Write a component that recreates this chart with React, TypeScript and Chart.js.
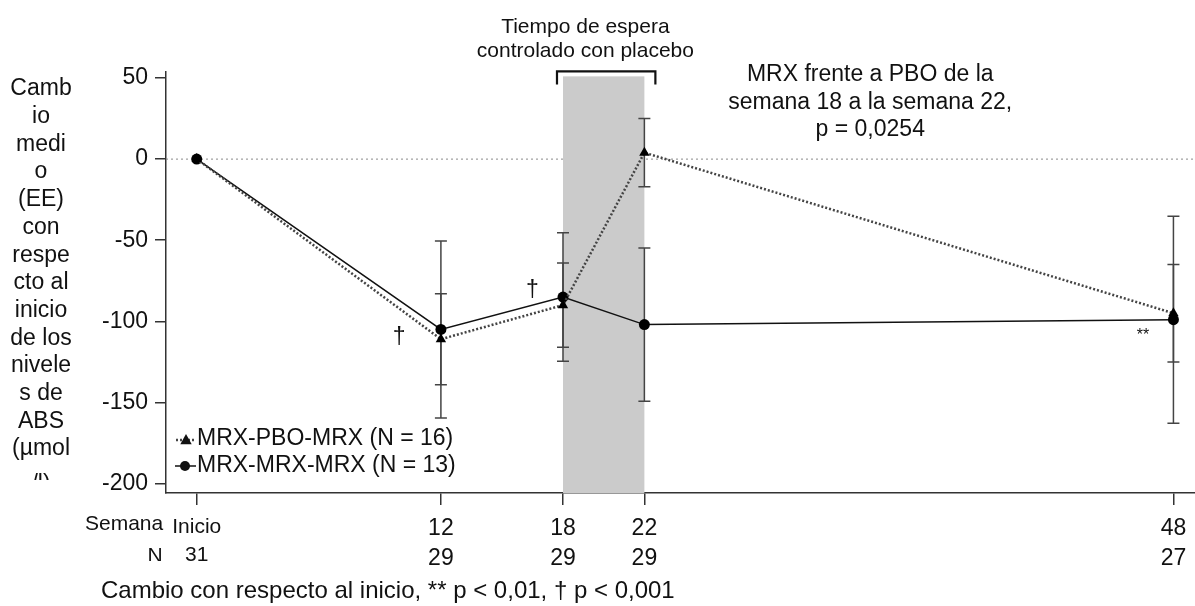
import { useEffect, useRef } from "react";
import { Chart, registerables } from "chart.js";

Chart.register(...registerables);

// ---- data ----
const weeks = [0, 12, 18, 22, 48];
const weekLabels = ["Inicio", "12", "18", "22", "48"];
const nCounts = ["31", "29", "29", "29", "27"];
const yTicks = [50, 0, -50, -100, -150, -200];
const seriesLabels = ["MRX-PBO-MRX (N = 16)", "MRX-MRX-MRX (N = 13)"];
const mrxPboMean = [0, -111, -90, 4, -95];
const mrxPboSE = [0, 28, 26, 21, 30];
const mrxMrxMean = [0, -105, -85, -102, -99];
const mrxMrxSE = [0, 54.5, 39.6, 47.2, 63.8];
const placeboWindow = [18, 22];
const yTitleLines = ["Camb", "io", "medi", "o", "(EE)", "con", "respe", "cto al", "inicio", "de los", "nivele", "s de", "ABS", "(µmol", "/l)"];
const placeboTitle = ["Tiempo de espera", "controlado con placebo"];
const compareText = ["MRX frente a PBO de la", "semana 18 a la semana 22,", "p = 0,0254"];
const footerText = "Cambio con respecto al inicio, ** p < 0,01, † p < 0,001";

const FONT = "'Liberation Sans', Arial, Helvetica, sans-serif";

export default function App() {
  const ref = useRef<HTMLCanvasElement>(null);

  useEffect(() => {
    const canvas = ref.current!;

    const drawTri = (ctx: CanvasRenderingContext2D, x: number, y: number, r: number) => {
      ctx.beginPath();
      ctx.moveTo(x, y - r);
      ctx.lineTo(x + r * 0.95, y + r * 0.7);
      ctx.lineTo(x - r * 0.95, y + r * 0.7);
      ctx.closePath();
      ctx.fill();
    };

    const overlay = {
      id: "overlay",
      beforeDatasetsDraw(chart: any) {
        const { ctx, chartArea } = chart;
        const xs = chart.scales.x;
        const ys = chart.scales.y;
        ctx.save();
        // zero reference line
        ctx.strokeStyle = "#8a8a8a";
        ctx.lineWidth = 1;
        ctx.setLineDash([2, 3]);
        ctx.beginPath();
        ctx.moveTo(chartArea.left, ys.getPixelForValue(0));
        ctx.lineTo(chartArea.right, ys.getPixelForValue(0));
        ctx.stroke();
        ctx.setLineDash([]);
        // placebo band
        const bx0 = xs.getPixelForValue(placeboWindow[0]);
        const bx1 = xs.getPixelForValue(placeboWindow[1]);
        const btop = ys.getPixelForValue(51);
        ctx.fillStyle = "#cbcbcb";
        ctx.fillRect(bx0, btop, bx1 - bx0, chartArea.bottom - btop);
        // bracket
        ctx.strokeStyle = "#111";
        ctx.lineWidth = 2.2;
        const bky = btop - 5;
        ctx.beginPath();
        ctx.moveTo(bx0 - 6, bky + 13);
        ctx.lineTo(bx0 - 6, bky);
        ctx.lineTo(bx1 + 11, bky);
        ctx.lineTo(bx1 + 11, bky + 13);
        ctx.stroke();
        // error bars
        const series = [
          { mean: mrxPboMean, se: mrxPboSE },
          { mean: mrxMrxMean, se: mrxMrxSE },
        ];
        ctx.strokeStyle = "#444";
        ctx.lineWidth = 1.5;
        series.forEach((s) => {
          weeks.forEach((w, i) => {
            if (!s.se[i]) return;
            const px = xs.getPixelForValue(w);
            const y1 = ys.getPixelForValue(s.mean[i] + s.se[i]);
            const y2 = ys.getPixelForValue(s.mean[i] - s.se[i]);
            ctx.beginPath();
            ctx.moveTo(px, y1);
            ctx.lineTo(px, y2);
            ctx.moveTo(px - 6, y1);
            ctx.lineTo(px + 6, y1);
            ctx.moveTo(px - 6, y2);
            ctx.lineTo(px + 6, y2);
            ctx.stroke();
          });
        });
        ctx.restore();
      },
      afterDraw(chart: any) {
        const { ctx } = chart;
        const xs = chart.scales.x;
        const ys = chart.scales.y;
        ctx.save();
        ctx.fillStyle = "#111";
        ctx.textBaseline = "middle";
        // y-axis title (stacked, clipped at the bottom like the original text box)
        ctx.save();
        ctx.beginPath();
        ctx.rect(0, 0, 100, 480);
        ctx.clip();
        ctx.font = `23px ${FONT}`;
        ctx.textAlign = "center";
        yTitleLines.forEach((t, i) => {
          const y = i === yTitleLines.length - 1 ? 485 : 89 + i * 27.7;
          ctx.fillText(t, 41, y);
        });
        ctx.restore();
        // placebo title
        ctx.font = `21px ${FONT}`;
        ctx.textAlign = "center";
        const pcx = xs.getPixelForValue(19.1);
        ctx.fillText(placeboTitle[0], pcx, 27);
        ctx.fillText(placeboTitle[1], pcx, 51);
        // comparison text
        ctx.font = `23px ${FONT}`;
        const ccx = xs.getPixelForValue(33.1);
        compareText.forEach((t, i) => ctx.fillText(t, ccx, 75 + i * 27.5));
        // significance marks
        ctx.font = `23px ${FONT}`;
        ctx.fillText("†", xs.getPixelForValue(9.95), ys.getPixelForValue(-110));
        ctx.fillText("†", xs.getPixelForValue(16.5), ys.getPixelForValue(-81));
        ctx.font = `16px ${FONT}`;
        ctx.fillText("**", xs.getPixelForValue(46.5), ys.getPixelForValue(-109));
        // legend
        ctx.textAlign = "left";
        ctx.font = `23px ${FONT}`;
        ctx.strokeStyle = "#444";
        ctx.lineWidth = 2.5;
        ctx.setLineDash([2, 2]);
        ctx.beginPath();
        ctx.moveTo(176, 440);
        ctx.lineTo(195, 440);
        ctx.stroke();
        ctx.setLineDash([]);
        drawTri(ctx, 186, 440, 6);
        ctx.strokeStyle = "#111";
        ctx.lineWidth = 1.5;
        ctx.beginPath();
        ctx.moveTo(175, 466);
        ctx.lineTo(196, 466);
        ctx.stroke();
        ctx.beginPath();
        ctx.arc(185, 466, 5, 0, Math.PI * 2);
        ctx.fill();
        ctx.fillText(seriesLabels[0], 197, 439);
        ctx.fillText(seriesLabels[1], 197, 466);
        // row labels for x axis
        ctx.font = `21px ${FONT}`;
        ctx.fillText("Semana", 85, 524);
        ctx.save();
        ctx.beginPath();
        ctx.rect(100, 540, 80, 21);
        ctx.clip();
        ctx.textAlign = "center";
        ctx.fillText("N", 155, 556);
        ctx.restore();
        // footer
        ctx.textAlign = "left";
        ctx.font = `24px ${FONT}`;
        ctx.fillText(footerText, 101, 591);
        ctx.restore();
      },
    };

    const chart = new Chart(canvas, {
      type: "line",
      data: {
        datasets: [
          {
            label: seriesLabels[0],
            data: weeks.map((w, i) => ({ x: w, y: mrxPboMean[i] })),
            borderColor: "#444",
            borderWidth: 2.5,
            borderDash: [2, 2],
            pointStyle: "triangle",
            pointRadius: 6,
            pointBackgroundColor: "#000",
            pointBorderColor: "#000",
            pointBorderWidth: 0,
            tension: 0,
            clip: false,
          },
          {
            label: seriesLabels[1],
            data: weeks.map((w, i) => ({ x: w, y: mrxMrxMean[i] })),
            borderColor: "#111",
            borderWidth: 1.5,
            pointStyle: "circle",
            pointRadius: 5.5,
            pointBackgroundColor: "#000",
            pointBorderColor: "#000",
            pointBorderWidth: 0,
            tension: 0,
            clip: false,
          },
        ],
      },
      options: {
        responsive: false,
        animation: false,
        devicePixelRatio: 1,
        layout: { autoPadding: false, padding: { top: 72, left: 0, right: 0, bottom: 0 } },
        plugins: { legend: { display: false }, tooltip: { enabled: false } },
        scales: {
          x: {
            type: "linear",
            min: -1.51,
            max: 49.06,
            afterBuildTicks: (scale: any) => {
              scale.ticks = weeks.map((v) => ({ value: v }));
            },
            afterFit: (scale: any) => {
              scale.height = 113;
              scale.paddingLeft = 0;
              scale.paddingRight = 0;
            },
            grid: { display: true, drawOnChartArea: false, drawTicks: true, tickLength: 12, color: "#333", lineWidth: 1.5 },
            border: { display: true, color: "#333", width: 1.5 },
            ticks: {
              autoSkip: false,
              maxRotation: 0,
              padding: 9,
              color: "#111",
              font: (ctx: any) => ({ family: FONT, size: ctx.index === 0 ? 21 : 23, lineHeight: 1.3 }),
              callback: (_v: any, i: number) => [weekLabels[i], nCounts[i]],
            },
          },
          y: {
            type: "linear",
            min: -205.8,
            max: 53.7,
            afterBuildTicks: (scale: any) => {
              scale.ticks = yTicks.map((v) => ({ value: v }));
            },
            afterFit: (scale: any) => {
              scale.width = 166;
              scale.paddingTop = 0;
              scale.paddingBottom = 0;
            },
            grid: { display: true, drawOnChartArea: false, drawTicks: true, tickLength: 11, color: "#333", lineWidth: 1.5 },
            border: { display: true, color: "#333", width: 1.5 },
            ticks: {
              padding: 7,
              color: "#111",
              font: { family: FONT, size: 23 },
              callback: (v: any) => String(v),
            },
          },
        },
      },
      plugins: [overlay],
    } as any);

    return () => chart.destroy();
  }, []);

  return (
    <canvas
      ref={ref}
      width={1195}
      height={606}
      style={{ position: "absolute", left: 0, top: 0, width: 1195, height: 606, background: "#fff" }}
    />
  );
}
